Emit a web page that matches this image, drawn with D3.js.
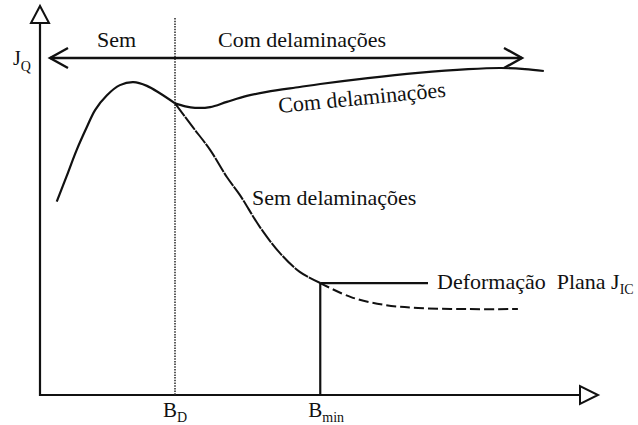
<!DOCTYPE html>
<html><head><meta charset="utf-8">
<script src="https://cdn.jsdelivr.net/npm/d3@7"></script>
<style>html,body{margin:0;padding:0;background:#fff}svg{display:block}
svg text{font-family:"Liberation Serif","Times New Roman",Tinos,"DejaVu Serif",serif !important}</style>
</head><body>
<script>
// Schematic values (B: thickness in arbitrary units 0-100, J: toughness 0-100)
const riseB = [3.1, 4.9, 6.8, 8.7, 10.2, 12.4, 14.8, 17.3, 19.8, 22.2, 25.0];
const riseJ = [52.0, 58.7, 65.9, 72.1, 76.6, 80.6, 83.3, 84.1, 83.1, 81.1, 78.4];
const comB = [25.0, 26.9, 28.7, 31.5, 34.6, 38.3, 42.0, 48.1, 51.9, 60.7, 70.0, 79.3, 85.4, 89.8, 93.3];
const comJ = [78.4, 77.6, 77.2, 77.4, 78.8, 80.4, 81.5, 82.8, 83.6, 85.2, 86.6, 87.6, 87.9, 87.6, 87.1];
const semB = [25.0, 28.3, 31.5, 34.6, 37.0, 40.7, 44.4, 48.1, 51.9];
const semJ = [78.4, 72.0, 65.9, 58.6, 53.8, 45.2, 38.2, 33.1, 30.1];
const tailB = [51.9, 57.6, 63.9, 70.0, 79.3, 88.5];
const tailJ = [30.1, 26.3, 24.2, 23.4, 23.1, 23.1];
const B_D = 25.0, B_min = 51.9, J_IC = 30.1;
const regionLabels = ["Sem", "Com delaminações"];
const curveLabels = ["Com delaminações", "Sem delaminações", "Deformação Plana J"];
const tickLabels = [{base: "B", sub: "D", v: B_D}, {base: "B", sub: "min", v: B_min}];

const W = 638, H = 425;
const serif = "Liberation Serif";
const svg = d3.select("body").append("svg").attr("width", W).attr("height", H).attr("fill", "#111");
const x = d3.scaleLinear().domain([0, 100]).range([40, 580]);
const y = d3.scaleLinear().domain([0, 100]).range([395, 23]);
const zip = (a, b) => a.map((v, i) => [v, b[i]]);
const line = d3.line().x(d => x(d[0])).y(d => y(d[1])).curve(d3.curveCatmullRom.alpha(0.5));

// axes
svg.append("line").attr("x1", x(0)).attr("x2", x(0)).attr("y1", y(0) + 1).attr("y2", y(100))
  .attr("stroke", "#111").attr("stroke-width", 2.2);
svg.append("path").attr("d", `M${x(0)-9},${y(100)} L${x(0)+9},${y(100)} L${x(0)},${y(100)-17} Z`)
  .attr("fill", "#fff").attr("stroke", "#111").attr("stroke-width", 2);
svg.append("line").attr("x1", x(0) - 1).attr("x2", x(100)).attr("y1", y(0)).attr("y2", y(0))
  .attr("stroke", "#111").attr("stroke-width", 2.2);
svg.append("path").attr("d", `M${x(100)},${y(0)-9} L${x(100)},${y(0)+9} L${x(100)+18},${y(0)} Z`)
  .attr("fill", "#fff").attr("stroke", "#111").attr("stroke-width", 2);

// dotted B_D line
svg.append("line").attr("x1", x(B_D)).attr("x2", x(B_D)).attr("y1", 18).attr("y2", y(0))
  .attr("stroke", "#333").attr("stroke-width", 1.6).attr("stroke-dasharray", "1.5,1.2");

// double arrow
const ay = 58, ax1 = 50, ax2 = 522;
svg.append("line").attr("x1", ax1).attr("x2", ax2).attr("y1", ay).attr("y2", ay)
  .attr("stroke", "#111").attr("stroke-width", 2.6);
svg.append("path").attr("d", `M${ax1+18},${ay-10} L${ax1},${ay} L${ax1+18},${ay+10}`)
  .attr("fill", "none").attr("stroke", "#111").attr("stroke-width", 2.4);
svg.append("path").attr("d", `M${ax2-18},${ay-10} L${ax2},${ay} L${ax2-18},${ay+10}`)
  .attr("fill", "none").attr("stroke", "#111").attr("stroke-width", 2.4);

// curves
svg.append("path").attr("d", line(zip(riseB, riseJ))).attr("fill", "none").attr("stroke", "#111").attr("stroke-width", 2.2);
svg.append("path").attr("d", line(zip(comB, comJ))).attr("fill", "none").attr("stroke", "#111").attr("stroke-width", 2.2);
svg.append("path").attr("d", line(zip(semB, semJ))).attr("fill", "none").attr("stroke", "#111").attr("stroke-width", 2)
  .attr("stroke-dasharray", "16,1");
svg.append("path").attr("d", line(zip(tailB, tailJ))).attr("fill", "none").attr("stroke", "#111").attr("stroke-width", 2)
  .attr("stroke-dasharray", "10,4");

// B_min / J_IC lines
svg.append("line").attr("x1", x(B_min)).attr("x2", x(B_min)).attr("y1", y(J_IC)).attr("y2", y(0))
  .attr("stroke", "#111").attr("stroke-width", 2.2);
svg.append("line").attr("x1", x(B_min)).attr("x2", 428).attr("y1", y(J_IC)).attr("y2", y(J_IC))
  .attr("stroke", "#111").attr("stroke-width", 2.2);

// texts
const fs = 22;
const T = (sel) => sel.append("text").style("font-family", serif);
T(svg).attr("x", 97).attr("y", 47).attr("font-size", fs).text(regionLabels[0]);
T(svg).attr("x", 218).attr("y", 47).attr("font-size", fs).text(regionLabels[1]);
T(svg).attr("transform", "translate(279,113) rotate(-5.6)").attr("font-size", fs).text(curveLabels[0]);
T(svg).attr("x", 252).attr("y", 205).attr("font-size", fs).text(curveLabels[1]);
const dt = T(svg).attr("x", 437).attr("y", 289).attr("font-size", fs).style("white-space", "pre");
dt.append("tspan").text("Deformação  Plana J");
dt.append("tspan").attr("font-size", 14).attr("dy", 5).text("IC");

const jq = T(svg).attr("x", 13).attr("y", 65).attr("font-size", 20);
jq.append("tspan").text("J");
jq.append("tspan").attr("font-size", 14).attr("dy", 6).text("Q");

tickLabels.forEach(t => {
  const tx = T(svg).attr("x", x(t.v) - 12).attr("y", 417).attr("font-size", 21);
  tx.append("tspan").text(t.base);
  tx.append("tspan").attr("font-size", 14).attr("dy", 5).text(t.sub);
});
</script>
</body></html>
